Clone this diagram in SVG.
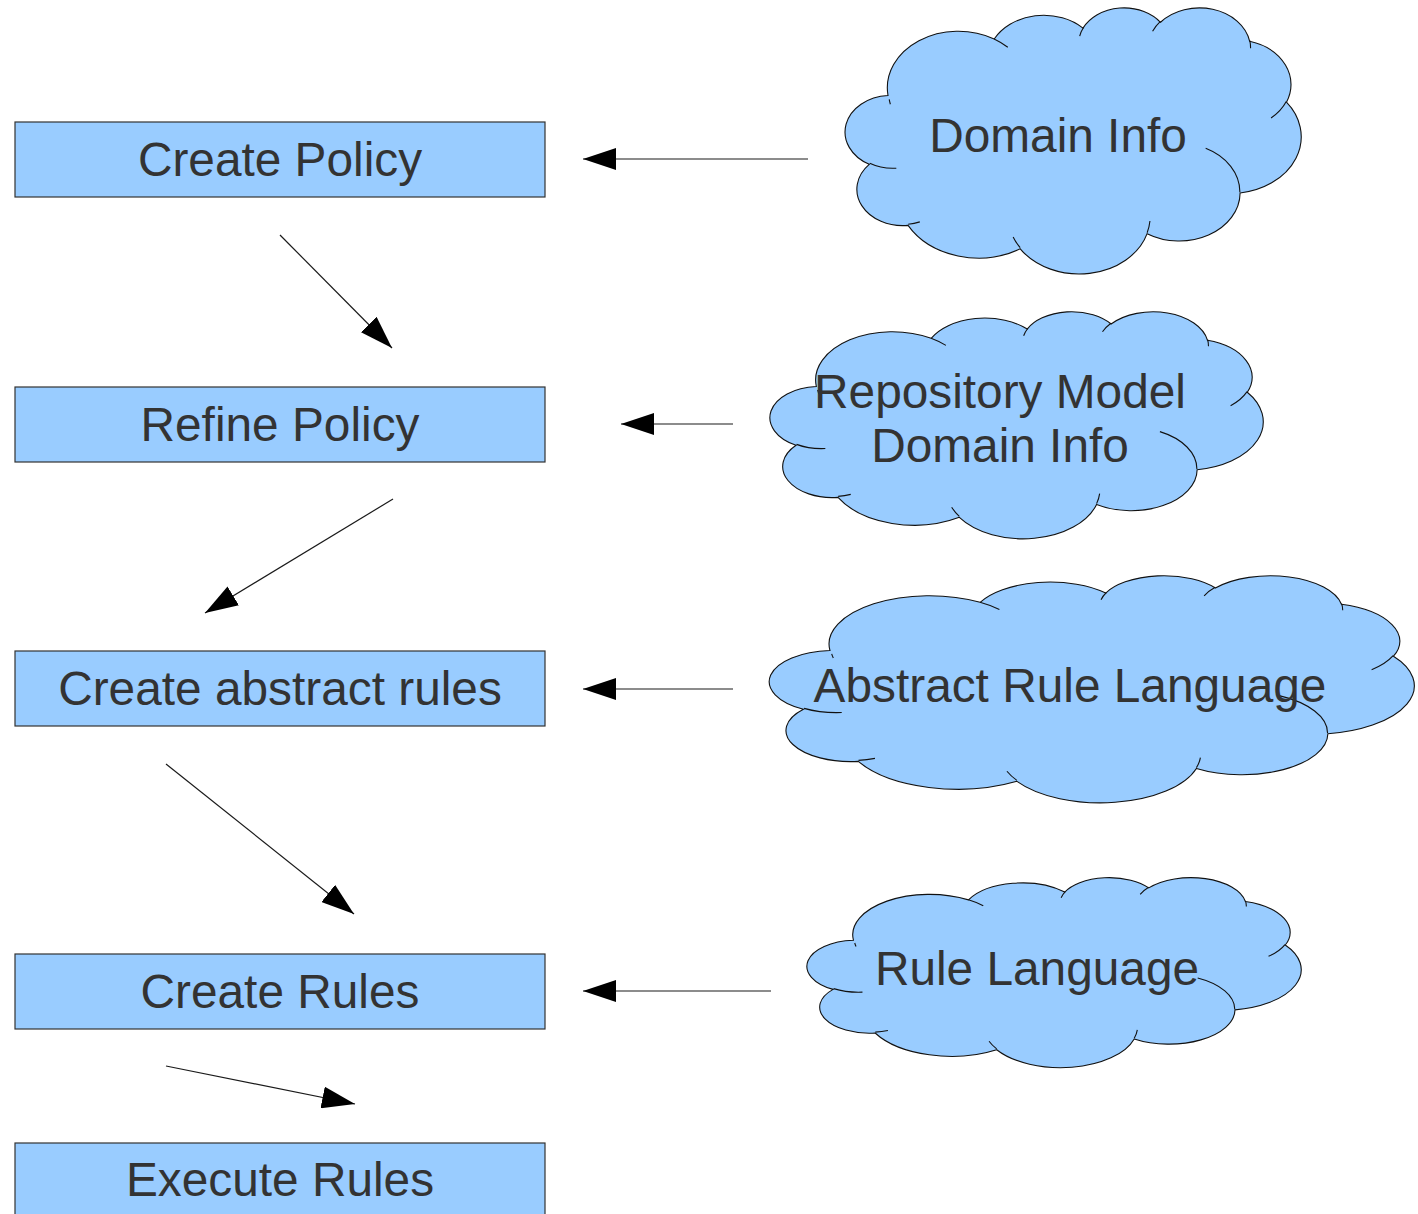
<svg xmlns="http://www.w3.org/2000/svg" xmlns:xlink="http://www.w3.org/1999/xlink" width="1418" height="1214" viewBox="0 0 1418 1214">
<style>
.box{fill:#99ccff;stroke:#333333;stroke-width:1.2}
.cloud{fill:#99ccff;stroke:#111111;stroke-width:1.1}
.cin{fill:none;stroke:#111111;stroke-width:1.1}
.nss{vector-effect:non-scaling-stroke}
.lbl{font-family:"Liberation Sans",Arial,sans-serif;font-size:47.8px;fill:#333333;text-anchor:middle}
.conn{stroke:#1a1a1a;stroke-width:1.2;fill:none;marker-end:url(#ah)}
</style>
<defs>
<marker id="ah" viewBox="0 0 33 22" refX="33" refY="11" markerWidth="33" markerHeight="22" markerUnits="userSpaceOnUse" orient="auto">
<path d="M0,0 L33,11 L0,22 Z" fill="#000000"/>
</marker>
<path id="cloudOut" class="nss" vector-effect="non-scaling-stroke" d="M3900 14370 A6753 9190 0 0 1 14005 5202 A5333 7267 0 0 1 22457 3432 A4365 5945 0 0 1 29833 2479 A4857 6595 0 0 1 38318 5575 A5333 7273 0 0 1 41819 15458 A6775 9220 0 0 1 37405 30203 A5785 7867 0 0 1 28557 36813 A6752 9215 0 0 1 16482 39267 A7720 10543 0 0 1 5807 35471 A4360 5918 0 0 1 2115 25551 A4345 5945 0 0 1 3900 14370 Z"/>
<path id="cloudIn" class="nss" vector-effect="non-scaling-stroke" d="M4693 26177 A4345 5945 0 0 1 2159 25380 M6928 34899 A4360 5918 0 0 1 5820 35281 M16478 39090 A6752 9215 0 0 1 15809 37347 M28827 34751 A6752 9215 0 0 1 28560 36660 M34129 22954 A5785 7867 0 0 1 37381 30090 M41798 15354 A5333 7273 0 0 1 40349 18031 M38324 5426 A4857 6595 0 0 1 38400 6689 M29078 3952 A4857 6595 0 0 1 29820 2340 M22141 4720 A4365 5945 0 0 1 22500 3330 M14000 5192 A6753 9190 0 0 1 15302 6543 M4127 15789 A6753 9190 0 0 1 4016 15005"/>
</defs>
<rect width="1418" height="1214" fill="#ffffff"/>

<g id="create-policy">
<rect class="box" x="15" y="122" width="530" height="75"/>
<text class="lbl" x="280" y="176">Create Policy</text>
</g>
<g id="refine-policy">
<rect class="box" x="15" y="387" width="530" height="75"/>
<text class="lbl" x="280" y="441">Refine Policy</text>
</g>
<g id="create-abstract-rules">
<rect class="box" x="15" y="651" width="530" height="75"/>
<text class="lbl" x="280" y="705">Create abstract rules</text>
</g>
<g id="create-rules">
<rect class="box" x="15" y="954" width="530" height="75"/>
<text class="lbl" x="280" y="1008">Create Rules</text>
</g>
<g id="execute-rules">
<rect class="box" x="15" y="1143" width="530" height="80"/>
<text class="lbl" x="280" y="1196">Execute Rules</text>
</g>

<g id="domain-info">
<g transform="translate(847,7) scale(0.0105093,0.0061574)">
<use xlink:href="#cloudOut" class="cloud"/>
<use xlink:href="#cloudIn" class="cin"/>
</g>
<text class="lbl" x="1058" y="152">Domain Info</text>
</g>
<g id="repository-model">
<g transform="translate(772,311) scale(0.0113657,0.0052546)">
<use xlink:href="#cloudOut" class="cloud"/>
<use xlink:href="#cloudIn" class="cin"/>
</g>
<text class="lbl" x="1000" y="408">Repository Model</text>
<text class="lbl" x="1000" y="462">Domain Info</text>
</g>
<g id="abstract-rule-language">
<g transform="translate(772,575) scale(0.0148611,0.0052546)">
<use xlink:href="#cloudOut" class="cloud"/>
<use xlink:href="#cloudIn" class="cin"/>
</g>
<text class="lbl" x="1070" y="702">Abstract Rule Language</text>
</g>
<g id="rule-language">
<g transform="translate(809,877) scale(0.0113889,0.0043981)">
<use xlink:href="#cloudOut" class="cloud"/>
<use xlink:href="#cloudIn" class="cin"/>
</g>
<text class="lbl" x="1037" y="985">Rule Language</text>
</g>

<g id="connectors">
<line class="conn" x1="808" y1="159" x2="583" y2="159"/>
<line class="conn" x1="733" y1="424" x2="621" y2="424"/>
<line class="conn" x1="733" y1="689" x2="583" y2="689"/>
<line class="conn" x1="771" y1="991" x2="583" y2="991"/>
<line class="conn" x1="280" y1="235" x2="392" y2="348"/>
<line class="conn" x1="393" y1="499" x2="205" y2="613"/>
<line class="conn" x1="166" y1="764" x2="354" y2="914"/>
<line class="conn" x1="166" y1="1066" x2="355" y2="1104"/>
</g>
</svg>
